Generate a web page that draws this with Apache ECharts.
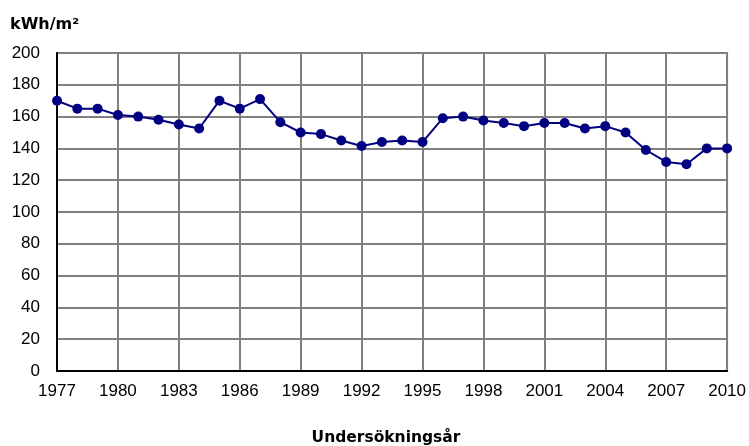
<!DOCTYPE html>
<html><head><meta charset="utf-8">
<script src="https://cdn.jsdelivr.net/npm/echarts@6/dist/echarts.min.js"></script>
<style>html,body{margin:0;padding:0;background:#fff}#c{width:749px;height:446px}</style>
</head><body><div id="c"></div>
<script>
const years = [1977,1978,1979,1980,1981,1982,1983,1984,1985,1986,1987,1988,1989,1990,1991,1992,1993,1994,1995,1996,1997,1998,1999,2000,2001,2002,2003,2004,2005,2006,2007,2008,2009,2010];
const values = [170,165,165,161,160,158,155,152.5,170,165,171,156.5,150,149,145,141.5,144,145,144,159,160,157.5,156,154,156,156,152.5,154,150,139,131.5,130,140,140];
const yTicks = [0,20,40,60,80,100,120,140,160,180,200];
const unitLabel = 'kWh/m²';
const xName = 'Undersökningsår';

const chart = echarts.init(document.getElementById('c'));
chart.setOption({
  animation:false,
  graphic:[
    {type:'text',left:10,top:17,style:{text:unitLabel,font:'bold 16px "DejaVu Sans"',fill:'#000'}},
    {type:'text',x:386,y:438,style:{text:xName,font:'bold 15.5px "DejaVu Sans"',fill:'#000',align:'center',verticalAlign:'middle'}}
  ],
  grid:{left:57,right:18,top:53,bottom:75,show:true,borderColor:'#808080',borderWidth:2},
  xAxis:{type:'value',min:1977,max:2010,interval:3,
    axisLine:{show:true,onZero:false,lineStyle:{color:'#000',width:2}},
    axisTick:{show:false},
    splitLine:{show:true,lineStyle:{color:'#808080',width:2}},
    axisLabel:{fontFamily:'Liberation Sans',fontSize:17,color:'#000',margin:12,formatter:v=>String(v)}},
  yAxis:{type:'value',min:yTicks[0],max:yTicks[yTicks.length-1],interval:20,
    axisLine:{show:true,lineStyle:{color:'#000',width:2}},
    axisTick:{show:false},
    splitLine:{show:true,lineStyle:{color:'#808080',width:2}},
    axisLabel:{fontFamily:'Liberation Sans',fontSize:17,color:'#000',margin:17}},
  series:[{type:'line',data:years.map((y,i)=>[y,values[i]]),
    symbol:'circle',symbolSize:10,
    lineStyle:{color:'#000080',width:2},
    itemStyle:{color:'#000080'}}]
});
</script></body></html>
